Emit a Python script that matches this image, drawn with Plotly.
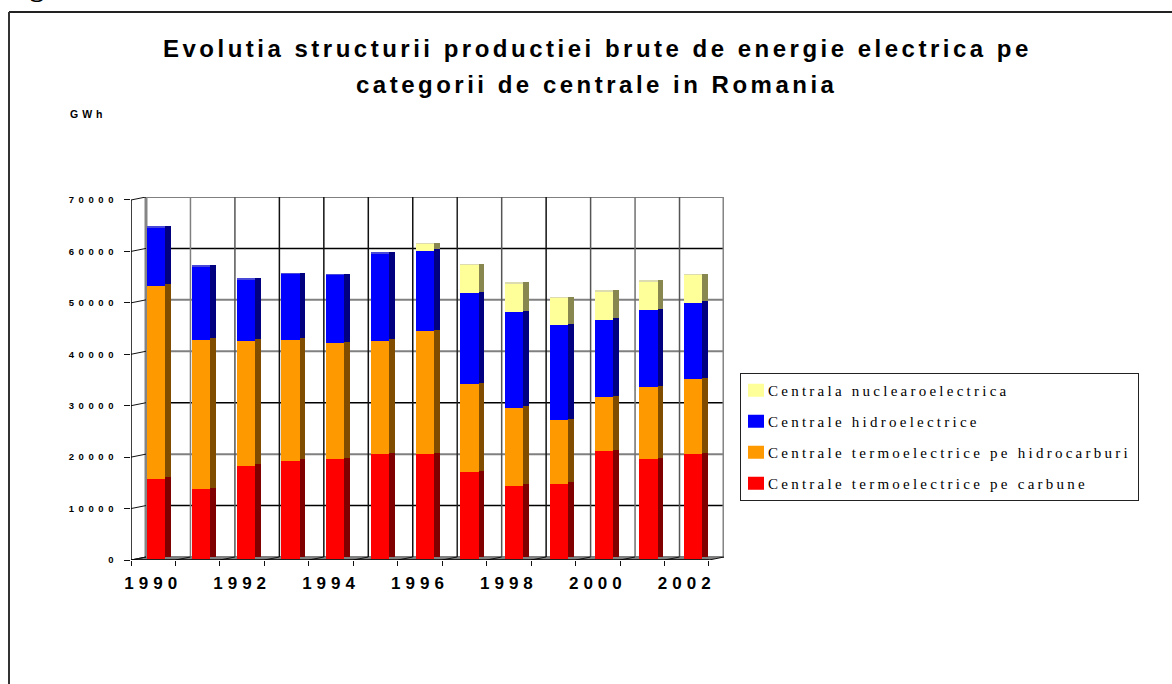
import plotly.graph_objects as go

YEARS = list(range(1990, 2003))
CARBUNE = [15500, 13500, 18000, 19000, 19300, 20300, 20300, 16800, 14100, 14500, 20900, 19300, 20300]
HIDROCARBURI = [37500, 29000, 24300, 23500, 22600, 22000, 23900, 17100, 15200, 12400, 10500, 14000, 14600]
HIDRO = [11300, 14200, 11900, 12800, 13200, 17000, 15600, 17700, 18600, 18500, 15000, 15000, 14800]
NUCLEAR = [0, 0, 0, 0, 0, 0, 1300, 5400, 5500, 5200, 5500, 5500, 5400]
Y_TICKS = [0, 10000, 20000, 30000, 40000, 50000, 60000, 70000]
X_LABEL_YEARS = [1990, 1992, 1994, 1996, 1998, 2000, 2002]
GRAY_H = [0, 20000, 40000, 50000, 70000]
BLACK_H = [10000, 30000, 60000]
V_COLORS = ["#858585", "#808080", "#555555", "#111111", "#111111", "#111111", "#111111",
            "#222222", "#555555", "#111111", "#555555", "#707070", "#555555", "#858585"]

SERIES = [
    ("Centrale termoelectrice pe carbune", CARBUNE, "#ff0000", "#800000", "#c04040"),
    ("Centrale termoelectrice pe hidrocarburi", HIDROCARBURI, "#ff9900", "#804d00", "#c09040"),
    ("Centrale hidroelectrice", HIDRO, "#0000ff", "#000080", "#4848d8"),
    ("Centrala nuclearoelectrica", NUCLEAR, "#ffff99", "#87874f", "#dcdcb0"),
]

W, H = 1172, 684
L, R, T, B = 131, 724, 197, 560
PX_X = 44.46
GWH_PX = 10000 / 51.43
DX = 15 / PX_X
DY = 3 * GWH_PX
X0 = 1989.5
X1 = 2002.5


def y_range(zero_px):
    return [(zero_px - B) * GWH_PX, (zero_px - T) * GWH_PX]


BAR_UNIT = 44.75
BAR_X0 = 147.0
FRONT_W = 18.3 / BAR_UNIT
SIDE_W = 5.8 / BAR_UNIT

fig = go.Figure()
fig.add_trace(go.Scatter(x=YEARS, y=[0] * 13, mode="none", showlegend=False, hoverinfo="skip"))

for name, vals, front, dark, pale in SERIES:
    fig.add_trace(go.Bar(x=YEARS, y=vals, xaxis="x2", yaxis="y2", marker=dict(color=pale, line_width=0),
                         width=FRONT_W + SIDE_W, offset=0, showlegend=False))
for name, vals, front, dark, pale in SERIES:
    fig.add_trace(go.Bar(x=YEARS, y=vals, xaxis="x2", yaxis="y3", marker=dict(color=dark, line_width=0),
                         width=SIDE_W, offset=FRONT_W, showlegend=False))
for rank, (name, vals, front, dark, pale) in zip([4, 3, 2, 1], SERIES):
    fig.add_trace(go.Bar(x=YEARS, y=vals, xaxis="x2", yaxis="y4", name=name, legendgroup=name, legendrank=rank,
                         marker=dict(color=front, line_width=0), width=FRONT_W, offset=0))

shapes = []


def line(x0, y0, x1, y1, color, width=1.5, layer="below", xref="x", yref="y"):
    shapes.append(dict(type="line", x0=x0, y0=y0, x1=x1, y1=y1, xref=xref, yref=yref, layer=layer,
                       line=dict(color=color, width=width)))


shapes.append(dict(type="path", xref="x", yref="y", layer="below", fillcolor="#808080", line_width=0,
                   path=f"M {X0},0 L {X1},0 L {X1 + DX},{DY} L {X0 + DX},{DY} Z"))
for v in GRAY_H:
    line(X0 + DX, v + DY, X1 + DX, v + DY, "#808080", 2)
for v in BLACK_H:
    line(X0 + DX, v + DY, X1 + DX, v + DY, "#000000", 1.5)
for k, c in enumerate(V_COLORS):
    line(X0 + k + DX, DY, X0 + k + DX, 70000 + DY, c, 3 if k in (0, 13) else 1.5)
for v in Y_TICKS:
    line(X0, v, X0 + DX, v + DY, "#111111", 1)
for k in range(14):
    line(X0 + k, 0, X0 + k + DX, DY, "#111111", 1)
line(X0, 0, X0, 70000, "#000000", 1.5)
line(X0, 0, X1, 0, "#000000", 1.5)
# page frame
line(9 / W, 1 - 12 / H, 1, 1 - 12 / H, "#222222", 2, "above", "paper", "paper")
line(9 / W, 1 - 12 / H, 9 / W, 0, "#333333", 2, "above", "paper", "paper")

SANS = "Liberation Sans"
annotations = [
    dict(text="<b>Evolutia structurii productiei brute de energie electrica pe</b>", x=597 / W, y=1 - 48 / H,
         font=dict(family=SANS, size=24, color="black")),
    dict(text="<b>categorii de centrale in Romania</b>", x=597 / W, y=1 - 85 / H,
         font=dict(family=SANS, size=24, color="black")),
    dict(text="<b>GWh</b>", x=88 / W, y=1 - 114 / H, font=dict(family=SANS, size=10.5, color="black")),
    dict(text="<b>Fig</b>", x=3 / W, y=1 + 13 / H, xanchor="left", yanchor="middle",
         font=dict(family="Liberation Serif", size=28, color="black")),
]
for a in annotations:
    a.update(xref="paper", yref="paper", showarrow=False)
    a.setdefault("xanchor", "center")
    a.setdefault("yanchor", "middle")

fig.update_layout(
    width=W, height=H, margin=dict(l=0, r=0, t=0, b=0, autoexpand=False), autosize=False,
    paper_bgcolor="white", plot_bgcolor="rgba(0,0,0,0)", barmode="stack", bargap=0,
    showlegend=True, hovermode=False,
    shapes=shapes, annotations=annotations,
    legend=dict(x=740 / W, y=1 - 373 / H, xanchor="left", yanchor="top", bgcolor="white",
                bordercolor="#222222", borderwidth=1, traceorder="grouped", tracegroupgap=8.5,
                itemclick=False, itemdoubleclick=False,
                font=dict(family="Liberation Serif", size=15, color="black")),
    xaxis=dict(domain=[L / W, R / W], range=[X0, X0 + (R - L) / PX_X], showgrid=False, zeroline=False,
               showline=False, tickmode="array", tickvals=X_LABEL_YEARS,
               ticktext=[str(y) for y in X_LABEL_YEARS], ticks="", ticklabelstandoff=11,
               tickfont=dict(family=SANS, size=17, color="black", weight="bold"),
               minor=dict(tickmode="array", tickvals=[X0 + k for k in range(14)], ticks="outside", ticklen=5,
                          tickcolor="#111111", tickwidth=1, showgrid=False)),
    xaxis2=dict(overlaying="x", range=[1990 + (L - BAR_X0) / BAR_UNIT, 1990 + (R - BAR_X0) / BAR_UNIT],
                visible=False),
    yaxis=dict(domain=[1 - B / H, 1 - T / H], range=y_range(B), showgrid=False, zeroline=False, showline=False,
               tickmode="array", tickvals=Y_TICKS, ticktext=[str(v) for v in Y_TICKS], ticks="outside",
               ticklen=6, tickcolor="#111111", tickwidth=1, ticklabelstandoff=4,
               tickfont=dict(family=SANS, size=9.5, color="black", weight="bold")),
    yaxis2=dict(overlaying="y", range=y_range(557.0), visible=False),
    yaxis3=dict(overlaying="y", range=y_range(557.0), visible=False),
    yaxis4=dict(overlaying="y", range=y_range(558.5), visible=False),
)

post = """
document.documentElement.style.overflow='hidden';
document.body.style.margin='0';
var s=document.createElement('style');
s.textContent=`
.xtick text{letter-spacing:5px}
.ytick text{letter-spacing:4.6px}
.legendtext{letter-spacing:3.25px}
.annotation[data-index="0"] text,.annotation[data-index="1"] text{letter-spacing:3.5px}
.annotation[data-index="2"] text{letter-spacing:4px}
`;
document.head.appendChild(s);
document.querySelectorAll('.legend .bg').forEach(function(e){e.setAttribute('width',398);});
document.querySelectorAll('clipPath[id^="legend"] rect').forEach(function(e){e.setAttribute('width',398);});
document.querySelectorAll('.legendpoints path').forEach(function(e){e.setAttribute('d','M3,6.5H-13V-6.5H3Z');});
document.querySelectorAll('.legendtext').forEach(function(e){e.setAttribute('x',+e.getAttribute('x')-13);});
"""
fig.write_html("out.html", post_script=post, config={"displayModeBar": False})
